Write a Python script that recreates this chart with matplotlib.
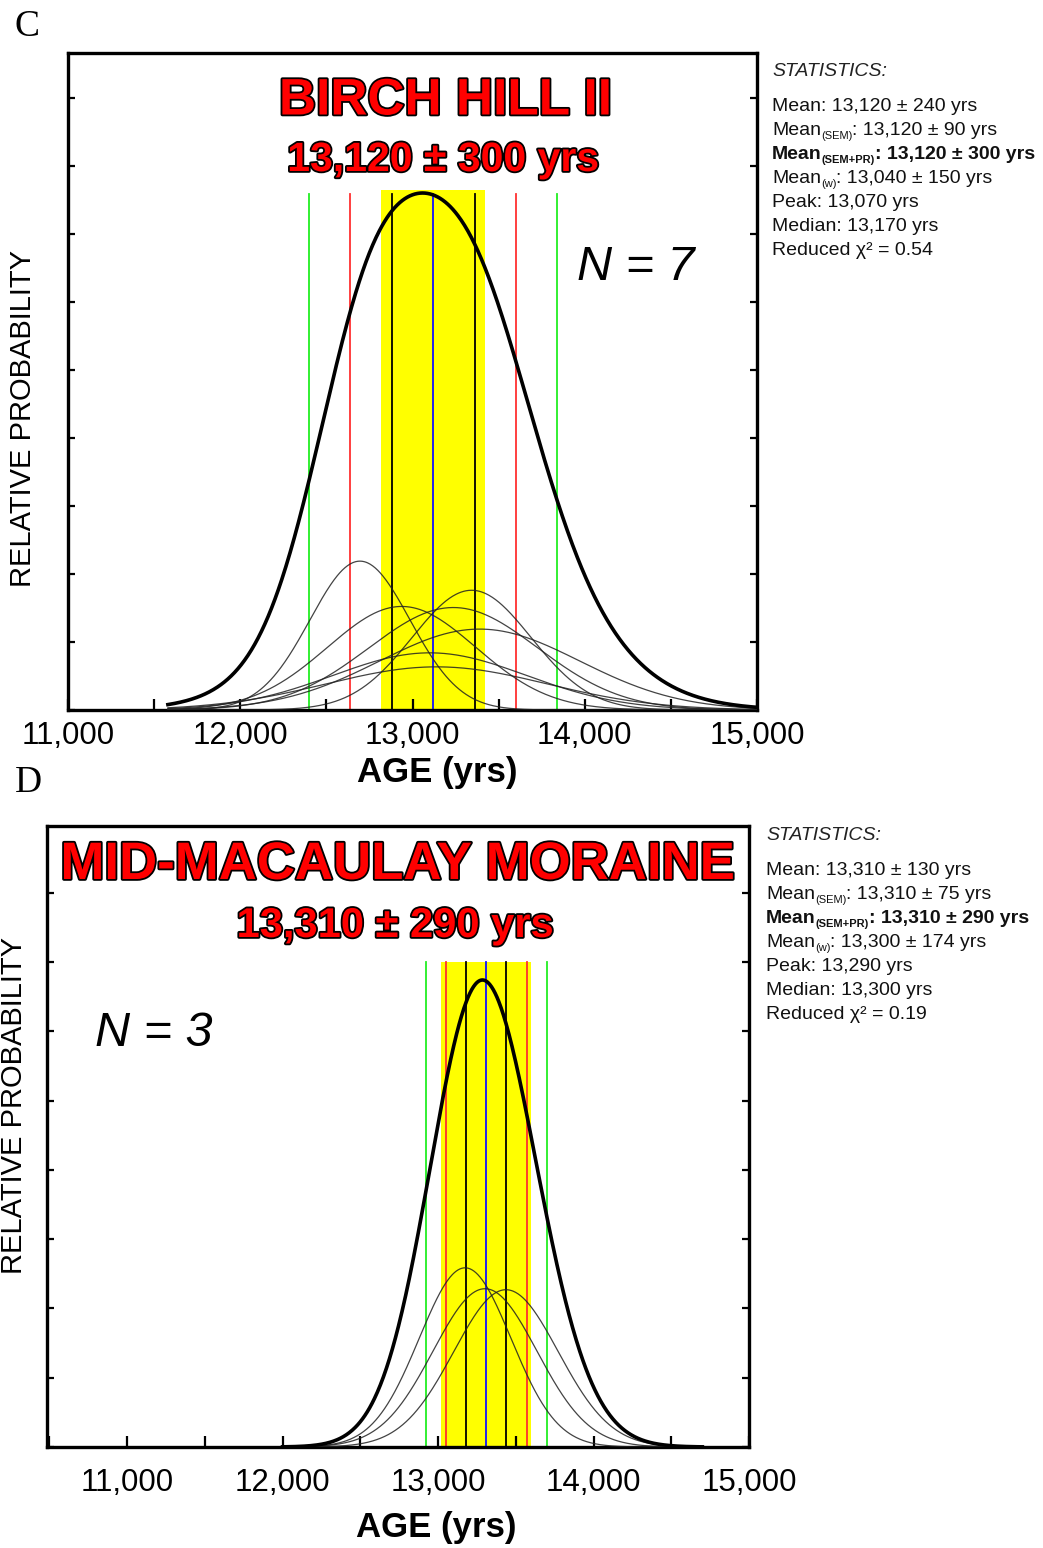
import numpy as np
import matplotlib
matplotlib.use("Agg")
import matplotlib.pyplot as plt
from matplotlib import patheffects as pe
from matplotlib import font_manager
from matplotlib.ticker import MultipleLocator

W, H = 1043, 1548

# Panel C - Birch Hill II: sample ages, 1-sigma widths, relative peak heights
ages_c = [12695, 13343, 12937, 13237, 13390, 13100, 13140]
sigmas_c = [290, 345, 430, 490, 580, 560, 640]
heights_c = [138, 111, 96, 95, 75, 53, 40]
mean_c, sd_c, err_c = 13120, 240, 300
stats_c = [
    ([("Mean: 13,120 ± 240 yrs", 0)], "normal"),
    ([("Mean", 0), ("(SEM)", 1), (": 13,120 ± 90 yrs", 0)], "normal"),
    ([("Mean", 0), ("(SEM+PR)", 1), (": 13,120 ± 300 yrs", 0)], "bold"),
    ([("Mean", 0), ("(w)", 1), (": 13,040 ± 150 yrs", 0)], "normal"),
    ([("Peak: 13,070 yrs", 0)], "normal"),
    ([("Median: 13,170 yrs", 0)], "normal"),
    ([("Reduced χ² = 0.54", 0)], "normal"),
]

# Panel D - Mid-Macaulay moraine
ages_d = [13174, 13302, 13437]
sigmas_d = [295, 334, 336]
heights_d = [180, 159, 158]
mean_d, sd_d, err_d = 13310, 130, 290
stats_d = [
    ([("Mean: 13,310 ± 130 yrs", 0)], "normal"),
    ([("Mean", 0), ("(SEM)", 1), (": 13,310 ± 75 yrs", 0)], "normal"),
    ([("Mean", 0), ("(SEM+PR)", 1), (": 13,310 ± 290 yrs", 0)], "bold"),
    ([("Mean", 0), ("(w)", 1), (": 13,300 ± 174 yrs", 0)], "normal"),
    ([("Peak: 13,290 yrs", 0)], "normal"),
    ([("Median: 13,300 yrs", 0)], "normal"),
    ([("Reduced χ² = 0.19", 0)], "normal"),
]

xticks = [11000, 12000, 13000, 14000, 15000]


def has_font(name):
    try:
        font_manager.findfont(name, fallback_to_default=False)
        return True
    except ValueError:
        return False


SANS = "Liberation Sans"
NARROW = "Liberation Sans Narrow" if has_font("Liberation Sans Narrow") else SANS
plt.rcParams["font.family"] = [SANS, "DejaVu Sans"]


def fx(px):
    return px / W


def fy(py):
    return 1 - py / H


def draw_panel(ax, ages, sigmas, heights, mean, sd, err, xlim, xrange, peak_frac, tick_step,
               line_top, band_top, pad):
    x = np.linspace(xrange[0], xrange[1], 700)
    curves = [h * np.exp(-(x - m) ** 2 / (2 * s ** 2)) for m, s, h in zip(ages, sigmas, heights)]
    total = np.sum(curves, axis=0)
    ytop = total.max() / peak_frac

    ax.axvspan(mean - err, mean + err, ymax=band_top, color="#ffff00", lw=0, zorder=1)
    for k, c in [(3, "#22ee22"), (2, "#ff3030"), (1, "black")]:
        for sgn in (-1, 1):
            ax.axvline(mean + sgn * k * sd, ymax=line_top, color=c, lw=1.3, zorder=2)
    ax.axvline(mean, ymax=line_top, color="#1010ff", lw=1.3, zorder=2)

    for c in curves:
        ax.plot(x, c, color="#222222", lw=0.9, alpha=0.85, zorder=3)
    ax.plot(x, total, color="black", lw=2.6, zorder=4)

    ax.set_xlim(*xlim)
    ax.set_ylim(0, ytop)
    ax.set_xticks(xticks)
    ax.set_xticklabels([f"{v:,}" for v in xticks], family=[NARROW, SANS], fontsize=22.5)
    ax.xaxis.set_minor_locator(MultipleLocator(500))
    ax.yaxis.set_major_locator(MultipleLocator(ytop * tick_step))
    ax.set_yticklabels([])
    ax.tick_params(axis="x", which="both", direction="in", length=8, width=1.6, pad=pad)
    ax.tick_params(axis="y", which="both", direction="in", length=5, width=1.6,
                   left=True, right=True, labelleft=False)
    for sp in ax.spines.values():
        sp.set_linewidth(2.4)


fig = plt.figure(figsize=(W / 100, H / 100), dpi=100)

ax_c = fig.add_axes([fx(68), fy(710), fx(757) - fx(68), fy(53) - fy(710)])
draw_panel(ax_c, ages_c, sigmas_c, heights_c, mean_c, sd_c, err_c, (11000, 15000), (11580, 15000),
           517 / 657, 68 / 657, 0.786, 0.791, 8)

ax_d = fig.add_axes([fx(47), fy(1447), fx(749) - fx(47), fy(826) - fy(1447)])
draw_panel(ax_d, ages_d, sigmas_d, heights_d, mean_d, sd_d, err_d, (10485, 15000), (12000, 14700),
           467 / 621, 69.3 / 621, 0.781, 0.781, 15)

outline = [pe.withStroke(linewidth=2.6, foreground="black")]

# titles
fig.text(fx(445), fy(101), "BIRCH HILL II", color="#ff0000", fontsize=37, fontweight="bold",
         ha="center", va="center", path_effects=outline)
fig.text(fx(443), fy(160), "13,120 ± 300 yrs", color="#ff0000", fontsize=29.5, fontweight="bold",
         ha="center", va="center", path_effects=outline)
fig.text(fx(397), fy(865), "MID-MACAULAY MORAINE", color="#ff0000", fontsize=38, fontweight="bold",
         ha="center", va="center", path_effects=outline)
fig.text(fx(395), fy(926), "13,310 ± 290 yrs", color="#ff0000", fontsize=30, fontweight="bold",
         ha="center", va="center", path_effects=outline)

# sample counts
fig.text(fx(636), fy(267), "N = 7", fontsize=35, style="italic", ha="center", va="center")
fig.text(fx(154), fy(1033), "N = 3", fontsize=35, style="italic", ha="center", va="center")

# axis labels
for (px, py) in [(437, 773), (436, 1527)]:
    fig.text(fx(px), fy(py), "AGE (yrs)", fontsize=25, fontweight="bold", family=[NARROW, SANS],
             ha="center", va="center")
for (px, py) in [(23, 418), (14, 1105)]:
    fig.text(fx(px), fy(py), "RELATIVE PROBABILITY", fontsize=21, rotation=90,
             ha="center", va="center")

# panel letters
fig.text(fx(27), fy(27), "C", fontsize=27, family=["Liberation Serif", "DejaVu Serif"],
         ha="center", va="center")
fig.text(fx(28), fy(783), "D", fontsize=27, family=["Liberation Serif", "DejaVu Serif"],
         ha="center", va="center")

# statistics boxes, with small subscripts drawn piece by piece
renderer = fig.canvas.get_renderer()
for x0, y0, stats in [(772, 72, stats_c), (766, 836, stats_d)]:
    fig.text(fx(x0), fy(y0), "STATISTICS:", fontsize=14, style="italic", color="#222222",
             ha="left", va="center")
    for i, (parts, wt) in enumerate(stats):
        base = y0 + 39 + i * 24
        xp = x0
        for txt, sub in parts:
            if sub:
                t = fig.text(fx(xp), fy(base + 4), txt, fontsize=8, fontweight=wt,
                             color="#111111", ha="left", va="baseline")
            else:
                t = fig.text(fx(xp), fy(base), txt, fontsize=14, fontweight=wt,
                             color="#111111", ha="left", va="baseline")
            xp += t.get_window_extent(renderer=renderer).width

fig.savefig("out.png", dpi=100)
